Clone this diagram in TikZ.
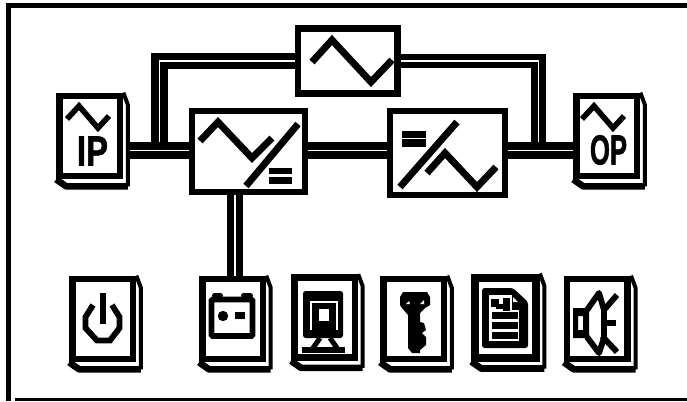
\documentclass[tikz,border=0pt]{standalone}
\usepackage{fontspec}
\usepackage{graphicx}
\usepackage{tikz}
\usetikzlibrary{calc, positioning}
\newfontfamily\keyfont[BoldFeatures={FakeBold=1.6}]{Liberation Sans}
\newcommand{\keyback}[1]{
  \draw[line width=3pt] (#1.north east) -- ++(4.5,12) -- ($(#1.south east)+(4.5,7)$);
  \draw[line width=5pt, line join=round] ($(#1.south east)+(4.5,7)$) -- ($(#1.south west)+(10,7)$) -- (#1.south west);
}

\begin{document}
\begin{tikzpicture}[
    x=0.75pt, y=-0.75pt,
    keybox/.style={rectangle, draw=black, fill=white, line width=5pt, minimum width=45.4pt, minimum height=60pt, inner sep=0pt},
    convbox/.style={rectangle, draw=black, fill=white, line width=5pt, inner sep=0pt},
    bus/.style={draw=black, double=white, line width=5.6pt, double distance=1pt},
    wave/.style={line width=5.2pt, line join=miter},
    smallwave/.style={line width=4.2pt, line join=miter},
    thinline/.style={line width=4.4pt},
    keytext/.style={inner sep=0pt, font=\keyfont\bfseries\fontsize{31.5}{31.5}\selectfont}
]
\useasboundingbox (0,0) rectangle (687,401);

\draw[line width=4.2pt] (687,5.5) -- (8.5,5.5) -- (8.5,401);
\draw[line width=2.6pt] (15,399.5) -- (687,399.5);

\node[convbox, minimum width=74.5pt, minimum height=49pt] (bypass) at (347.5,61) {};
\node[convbox, minimum width=84.75pt, minimum height=60.75pt] (rectifier) at (248.5,151.5) {};
\node[convbox, minimum width=86.25pt, minimum height=63pt] (inverter) at (447.5,153) {};

\node[keybox] (ip) at (89.75,136) {};
\node[keybox] (op) at (606.75,136) {};

\node[keybox] (power) at (102.75,319) {};
\node[keybox, right=47pt of power] (battery) {};
\node[keybox, right=18.6pt of battery, yshift=1.1pt] (display) {};
\node[keybox, right=16.4pt of display, yshift=-1.1pt] (lock) {};
\node[keybox, line width=6pt, right=18pt of lock, yshift=1.1pt] (record) {};
\node[keybox, right=18pt of record, yshift=-1.1pt] (sound) {};

\coordinate (busline) at (340,150.5);
\coordinate (busleft) at (159.5,147);
\coordinate (busright) at (538.5,147);
\coordinate (batteryin) at (235,276);

\draw[bus] (bypass.west) -| (busleft);
\draw[bus, line width=4.8pt] (bypass.east) -| (busright);
\draw[bus] ($(ip.east |- busline)+(7,0)$) -- (rectifier.west |- busline);
\draw[bus] (rectifier.east |- busline) -- (inverter.west |- busline);
\draw[bus] (inverter.east |- busline) -- (op.west |- busline);
\draw[bus] (rectifier.south -| batteryin) -- (batteryin);

\foreach \keyname in {ip,op,power,battery,display,lock,record,sound} {
    \keyback{\keyname}
}

\draw[wave] (312,62) -- (332,40) -- (371,82) -- (392,60);

\draw[wave] (200,141) -- (218,122) -- (252,158) -- (272,138);
\draw[wave] (298,124) -- (246,186);
\fill (269,168) rectangle (292,174);
\fill (269,177) rectangle (292,184);

\draw[wave] (457,122) -- (400,187);
\fill (402,131) rectangle (426,137.5);
\fill (402,139) rectangle (426,147);
\draw[wave] (427,173) -- (445,153) -- (477,187) -- (496,167);

\draw[smallwave] (67,119) -- (79,106) -- (98,128) -- (109,116);
\node[keytext] (iplabel) at (92.5,151) {\scalebox{0.78}[1]{IP}};

\draw[smallwave] (582,119) -- (594,106) -- (613,128) -- (624,116);
\node[keytext] (oplabel) at (608.5,150) {\scalebox{0.61}[1]{OP}};

\draw[line width=5pt] (103,293) -- (103,324);
\draw[line width=4.4pt] (93,305) -- (85.5,317) -- (85.5,328) -- (97,340.5) -- (110,340.5) -- (119.5,328) -- (119.5,317) -- (112,305);

\draw[thinline, rounded corners=1pt] (211.5,299.5) rectangle (252.5,336);
\fill[rounded corners=2pt] (212,298) -- (212,293) -- (223,293) -- (223,298) -- cycle;
\fill[rounded corners=2pt] (241,298) -- (241,293) -- (253,293) -- (253,298) -- cycle;
\fill (223,316) circle[radius=3.9pt];
\fill (235,312) rectangle (245,319);

\fill[rounded corners=2pt] (303,291) rectangle (343,338);
\draw[white, line width=0.9pt] (311,330) -- (311,302) -- (337,302) -- (337,330);
\fill[white] (319,309) rectangle (329,321);
\draw[line width=3.8pt] (320,338) -- (313,348);
\draw[line width=3.8pt] (330,338) -- (337,348);
\fill (302,347) rectangle (345,353);

\fill (403,292) -- (427,292) -- (430,297) -- (430,305) -- (425,308) -- (420,313) -- (420,322) -- (424,323) -- (426,330) -- (422,333) -- (426,337) -- (426,345) -- (420,350) -- (420,353) -- (412,353) -- (408,348) -- (408,315) -- (402,308) -- (400,305) -- (400,297) -- cycle;
\fill[white] (406,304) -- (410,304) -- (409,301) -- cycle;
\fill[white] (420,304) -- (424,304) -- (424,300) -- cycle;

\fill[rounded corners=2pt] (482,288) -- (513,288) -- (528,302) -- (528,348) -- (482,348) -- cycle;
\fill[white] (513,297) -- (518,302) -- (513,302) -- cycle;
\fill[white] (489,295) rectangle (512,310);
\fill[white] (489,310) rectangle (519,341);
\fill (492,312) rectangle (518,319);
\fill (492,322) rectangle (518,329);
\fill (492,332) rectangle (518,339);
\fill (491,299) rectangle (499,307);
\fill (503,298) rectangle (510,311);
\fill (496,304) rectangle (506,309);

\fill[even odd rule] (573,308) rectangle (589,338) (578,316) rectangle (583,330);
\draw[thinline, line join=round] (587,310) -- (599,293) -- (604,310) -- (604,338) -- (599,353) -- (587,337);
\draw[thinline] (617,295) -- (604,310);
\draw[thinline] (617,352) -- (602,336);
\draw[thinline] (604,323) -- (616,323);
\end{tikzpicture}
\end{document}
